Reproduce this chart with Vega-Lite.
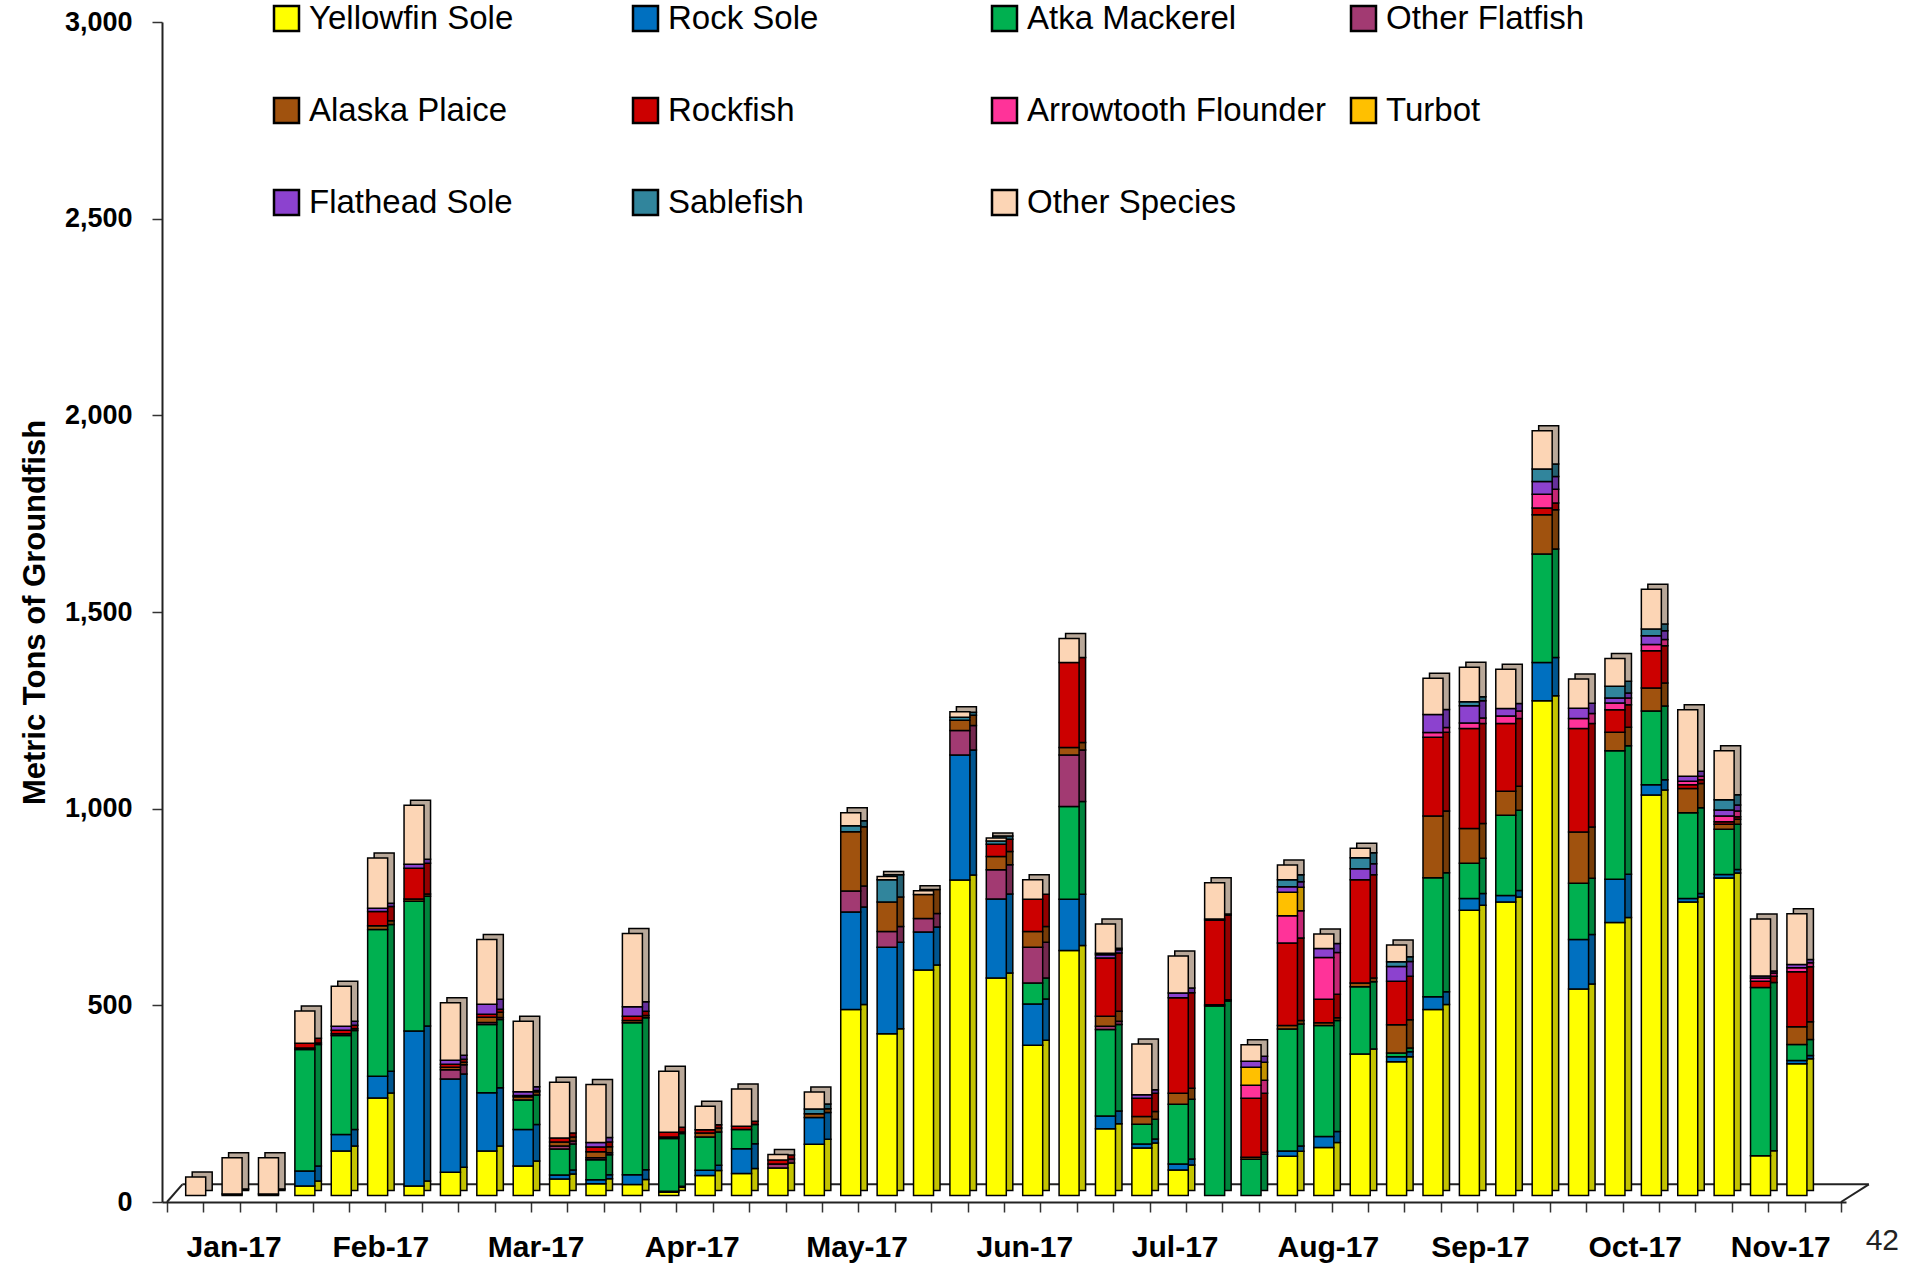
{
  "$schema": "https://vega.github.io/schema/vega-lite/v6.json",
  "width": 1684,
  "height": 1180,
  "autosize": {"type": "none"},
  "padding": {"left": 162, "top": 22, "right": 65, "bottom": 65},
  "background": "white",
  "config": {"view": {"stroke": null}, "font": "Liberation Sans"},
  "title": {"text": "42", "orient": "bottom", "anchor": "end", "frame": "group", "fontSize": 30, "fontWeight": "normal", "font": "Liberation Sans", "color": "#222", "dx": 53, "dy": -36, "offset": 0},
  "layer": [
    {
      "data": {"values": [{"edge": "back"}]},
      "mark": {"type": "rule", "color": "#222", "strokeWidth": 2, "clip": false},
      "encoding": {
        "x": {"datum": 0.923, "type": "quantitative",
          "scale": {"domain": [0.5, 46.5], "nice": false, "zero": false},
          "axis": {
            "title": null, "grid": false,
            "values": [0.5,1.5,2.5,3.5,4.5,5.5,6.5,7.5,8.5,9.5,10.5,11.5,12.5,13.5,14.5,15.5,16.5,17.5,18.5,19.5,20.5,21.5,22.5,23.5,24.5,25.5,26.5,27.5,28.5,29.5,30.5,31.5,32.5,33.5,34.5,35.5,36.5,37.5,38.5,39.5,40.5,41.5,42.5,43.5,44.5,45.5,46.5,2.33,6.36,10.63,14.92,19.45,24.06,28.19,32.4,36.58,40.83,44.83],
            "labelExpr": "datum.value == 2.33 ? 'Jan-17' : datum.value == 6.36 ? 'Feb-17' : datum.value == 10.63 ? 'Mar-17' : datum.value == 14.92 ? 'Apr-17' : datum.value == 19.45 ? 'May-17' : datum.value == 24.06 ? 'Jun-17' : datum.value == 28.19 ? 'Jul-17' : datum.value == 32.4 ? 'Aug-17' : datum.value == 36.58 ? 'Sep-17' : datum.value == 40.83 ? 'Oct-17' : datum.value == 44.83 ? 'Nov-17' : ''",
            "tickOpacity": {"condition": {"test": "datum.value % 1 == 0.5", "value": 1}, "value": 0},
            "labelFont": "Liberation Sans", "labelFontSize": 30, "labelFontWeight": "bold", "labelColor": "black",
            "labelPadding": 20, "labelOverlap": false, "labelFlush": false, "labelBound": false,
            "tickSize": 10, "tickColor": "#333", "tickWidth": 1.5,
            "domainColor": "#222", "domainWidth": 2
          }},
        "x2": {"datum": 47.265},
        "y": {"datum": 45, "type": "quantitative",
          "scale": {"domain": [0, 3000], "nice": false},
          "axis": {
            "title": "Metric Tons of Groundfish", "titleFont": "Liberation Sans", "titleFontSize": 31, "titleFontWeight": "bold", "titleColor": "black", "titlePadding": 13,
            "values": [0,500,1000,1500,2000,2500,3000], "format": ",.0f", "grid": false,
            "labelFont": "Liberation Sans", "labelFontSize": 27, "labelFontWeight": "bold", "labelColor": "black", "labelPadding": 20, "labelFlush": false,
            "labelOverlap": false,
            "tickSize": 10, "tickColor": "#333", "tickWidth": 1.5,
            "domainColor": "#222", "domainWidth": 2
          }},
        "y2": {"datum": 45}
      }
    },
    {
      "data": {"values": [{"edge": "left"}]},
      "mark": {"type": "rule", "color": "#222", "strokeWidth": 2, "clip": false},
      "encoding": {
        "x": {"datum": 0.5, "type": "quantitative",
          "scale": {"domain": [0.5, 46.5], "nice": false, "zero": false},
          "axis": {
            "title": null, "grid": false,
            "values": [0.5,1.5,2.5,3.5,4.5,5.5,6.5,7.5,8.5,9.5,10.5,11.5,12.5,13.5,14.5,15.5,16.5,17.5,18.5,19.5,20.5,21.5,22.5,23.5,24.5,25.5,26.5,27.5,28.5,29.5,30.5,31.5,32.5,33.5,34.5,35.5,36.5,37.5,38.5,39.5,40.5,41.5,42.5,43.5,44.5,45.5,46.5,2.33,6.36,10.63,14.92,19.45,24.06,28.19,32.4,36.58,40.83,44.83],
            "labelExpr": "datum.value == 2.33 ? 'Jan-17' : datum.value == 6.36 ? 'Feb-17' : datum.value == 10.63 ? 'Mar-17' : datum.value == 14.92 ? 'Apr-17' : datum.value == 19.45 ? 'May-17' : datum.value == 24.06 ? 'Jun-17' : datum.value == 28.19 ? 'Jul-17' : datum.value == 32.4 ? 'Aug-17' : datum.value == 36.58 ? 'Sep-17' : datum.value == 40.83 ? 'Oct-17' : datum.value == 44.83 ? 'Nov-17' : ''",
            "tickOpacity": {"condition": {"test": "datum.value % 1 == 0.5", "value": 1}, "value": 0},
            "labelFont": "Liberation Sans", "labelFontSize": 30, "labelFontWeight": "bold", "labelColor": "black",
            "labelPadding": 20, "labelOverlap": false, "labelFlush": false, "labelBound": false,
            "tickSize": 10, "tickColor": "#333", "tickWidth": 1.5,
            "domainColor": "#222", "domainWidth": 2
          }},
        "x2": {"datum": 0.923},
        "y": {"datum": 0, "type": "quantitative",
          "scale": {"domain": [0, 3000], "nice": false},
          "axis": {
            "title": "Metric Tons of Groundfish", "titleFont": "Liberation Sans", "titleFontSize": 31, "titleFontWeight": "bold", "titleColor": "black", "titlePadding": 13,
            "values": [0,500,1000,1500,2000,2500,3000], "format": ",.0f", "grid": false,
            "labelFont": "Liberation Sans", "labelFontSize": 27, "labelFontWeight": "bold", "labelColor": "black", "labelPadding": 20, "labelFlush": false,
            "labelOverlap": false,
            "tickSize": 10, "tickColor": "#333", "tickWidth": 1.5,
            "domainColor": "#222", "domainWidth": 2
          }},
        "y2": {"datum": 45}
      }
    },
    {
      "data": {"values": [{"edge": "right"}]},
      "mark": {"type": "rule", "color": "#222", "strokeWidth": 2, "clip": false},
      "encoding": {
        "x": {"datum": 46.5, "type": "quantitative",
          "scale": {"domain": [0.5, 46.5], "nice": false, "zero": false},
          "axis": {
            "title": null, "grid": false,
            "values": [0.5,1.5,2.5,3.5,4.5,5.5,6.5,7.5,8.5,9.5,10.5,11.5,12.5,13.5,14.5,15.5,16.5,17.5,18.5,19.5,20.5,21.5,22.5,23.5,24.5,25.5,26.5,27.5,28.5,29.5,30.5,31.5,32.5,33.5,34.5,35.5,36.5,37.5,38.5,39.5,40.5,41.5,42.5,43.5,44.5,45.5,46.5,2.33,6.36,10.63,14.92,19.45,24.06,28.19,32.4,36.58,40.83,44.83],
            "labelExpr": "datum.value == 2.33 ? 'Jan-17' : datum.value == 6.36 ? 'Feb-17' : datum.value == 10.63 ? 'Mar-17' : datum.value == 14.92 ? 'Apr-17' : datum.value == 19.45 ? 'May-17' : datum.value == 24.06 ? 'Jun-17' : datum.value == 28.19 ? 'Jul-17' : datum.value == 32.4 ? 'Aug-17' : datum.value == 36.58 ? 'Sep-17' : datum.value == 40.83 ? 'Oct-17' : datum.value == 44.83 ? 'Nov-17' : ''",
            "tickOpacity": {"condition": {"test": "datum.value % 1 == 0.5", "value": 1}, "value": 0},
            "labelFont": "Liberation Sans", "labelFontSize": 30, "labelFontWeight": "bold", "labelColor": "black",
            "labelPadding": 20, "labelOverlap": false, "labelFlush": false, "labelBound": false,
            "tickSize": 10, "tickColor": "#333", "tickWidth": 1.5,
            "domainColor": "#222", "domainWidth": 2
          }},
        "x2": {"datum": 47.265},
        "y": {"datum": 0, "type": "quantitative",
          "scale": {"domain": [0, 3000], "nice": false},
          "axis": {
            "title": "Metric Tons of Groundfish", "titleFont": "Liberation Sans", "titleFontSize": 31, "titleFontWeight": "bold", "titleColor": "black", "titlePadding": 13,
            "values": [0,500,1000,1500,2000,2500,3000], "format": ",.0f", "grid": false,
            "labelFont": "Liberation Sans", "labelFontSize": 27, "labelFontWeight": "bold", "labelColor": "black", "labelPadding": 20, "labelFlush": false,
            "labelOverlap": false,
            "tickSize": 10, "tickColor": "#333", "tickWidth": 1.5,
            "domainColor": "#222", "domainWidth": 2
          }},
        "y2": {"datum": 45}
      }
    },
    {
      "data": {"values": [
          {"week":1,"Other Species":47},
          {"week":2,"Yellowfin Sole":4,"Other Species":92},
          {"week":3,"Alaska Plaice":4,"Other Species":92},
          {"week":4,"Yellowfin Sole":24,"Rock Sole":38,"Atka Mackerel":309,"Alaska Plaice":4,"Rockfish":12,"Other Species":82},
          {"week":5,"Yellowfin Sole":113,"Rock Sole":42,"Atka Mackerel":252,"Alaska Plaice":4,"Rockfish":9,"Flathead Sole":10,"Other Species":102},
          {"week":6,"Yellowfin Sole":248,"Rock Sole":55,"Atka Mackerel":373,"Alaska Plaice":10,"Rockfish":36,"Flathead Sole":8,"Other Species":128},
          {"week":7,"Yellowfin Sole":24,"Rock Sole":394,"Atka Mackerel":330,"Alaska Plaice":6,"Rockfish":78,"Flathead Sole":10,"Other Species":150},
          {"week":8,"Yellowfin Sole":59,"Rock Sole":237,"Other Flatfish":24,"Alaska Plaice":6,"Rockfish":8,"Flathead Sole":10,"Other Species":146},
          {"week":9,"Yellowfin Sole":113,"Rock Sole":148,"Atka Mackerel":174,"Other Flatfish":5,"Alaska Plaice":13,"Rockfish":8,"Flathead Sole":25,"Other Species":165},
          {"week":10,"Yellowfin Sole":75,"Rock Sole":93,"Atka Mackerel":75,"Alaska Plaice":8,"Rockfish":3,"Flathead Sole":10,"Other Species":179},
          {"week":11,"Yellowfin Sole":42,"Rock Sole":10,"Atka Mackerel":66,"Other Flatfish":8,"Alaska Plaice":10,"Rockfish":10,"Other Species":142},
          {"week":12,"Yellowfin Sole":30,"Rock Sole":10,"Atka Mackerel":51,"Other Flatfish":5,"Alaska Plaice":15,"Rockfish":12,"Flathead Sole":12,"Other Species":147},
          {"week":13,"Yellowfin Sole":28,"Rock Sole":25,"Atka Mackerel":386,"Alaska Plaice":6,"Rockfish":11,"Flathead Sole":24,"Other Species":186},
          {"week":14,"Yellowfin Sole":8,"Rock Sole":3,"Atka Mackerel":134,"Alaska Plaice":4,"Rockfish":12,"Other Species":155},
          {"week":15,"Yellowfin Sole":51,"Rock Sole":13,"Atka Mackerel":85,"Alaska Plaice":10,"Rockfish":8,"Other Species":60},
          {"week":16,"Yellowfin Sole":56,"Rock Sole":63,"Atka Mackerel":49,"Rockfish":8,"Other Species":95},
          {"week":17,"Yellowfin Sole":70,"Other Flatfish":10,"Rockfish":10,"Other Species":14},
          {"week":18,"Yellowfin Sole":130,"Rock Sole":68,"Alaska Plaice":10,"Sablefish":12,"Other Species":43},
          {"week":19,"Yellowfin Sole":473,"Rock Sole":248,"Other Flatfish":53,"Alaska Plaice":151,"Sablefish":15,"Other Species":33},
          {"week":20,"Yellowfin Sole":411,"Rock Sole":220,"Other Flatfish":40,"Alaska Plaice":75,"Sablefish":57,"Other Species":8},
          {"week":21,"Yellowfin Sole":573,"Rock Sole":97,"Other Flatfish":34,"Alaska Plaice":61,"Other Species":10},
          {"week":22,"Yellowfin Sole":802,"Rock Sole":318,"Other Flatfish":62,"Alaska Plaice":26,"Sablefish":8,"Other Species":14},
          {"week":23,"Yellowfin Sole":553,"Rock Sole":201,"Other Flatfish":74,"Alaska Plaice":34,"Rockfish":31,"Sablefish":8,"Other Species":8},
          {"week":24,"Yellowfin Sole":382,"Rock Sole":105,"Atka Mackerel":53,"Other Flatfish":91,"Alaska Plaice":40,"Rockfish":82,"Other Species":50},
          {"week":25,"Yellowfin Sole":623,"Rock Sole":130,"Atka Mackerel":236,"Other Flatfish":131,"Alaska Plaice":19,"Rockfish":216,"Other Species":61},
          {"week":26,"Yellowfin Sole":170,"Rock Sole":32,"Atka Mackerel":220,"Other Flatfish":8,"Alaska Plaice":26,"Rockfish":148,"Flathead Sole":8,"Sablefish":4,"Other Species":74},
          {"week":27,"Yellowfin Sole":121,"Rock Sole":10,"Atka Mackerel":50,"Alaska Plaice":20,"Rockfish":46,"Flathead Sole":9,"Other Species":129},
          {"week":28,"Yellowfin Sole":65,"Rock Sole":15,"Atka Mackerel":152,"Alaska Plaice":28,"Rockfish":243,"Flathead Sole":12,"Other Species":94},
          {"week":29,"Atka Mackerel":482,"Alaska Plaice":3,"Rockfish":215,"Flathead Sole":3,"Other Species":92},
          {"week":30,"Atka Mackerel":92,"Alaska Plaice":5,"Rockfish":150,"Arrowtooth Flounder":33,"Turbot":46,"Flathead Sole":15,"Other Species":42},
          {"week":31,"Yellowfin Sole":100,"Rock Sole":13,"Atka Mackerel":310,"Alaska Plaice":9,"Rockfish":210,"Arrowtooth Flounder":69,"Turbot":60,"Flathead Sole":14,"Sablefish":18,"Other Species":37},
          {"week":32,"Yellowfin Sole":122,"Rock Sole":28,"Atka Mackerel":282,"Alaska Plaice":7,"Rockfish":60,"Arrowtooth Flounder":106,"Flathead Sole":23,"Other Species":37},
          {"week":33,"Yellowfin Sole":360,"Atka Mackerel":171,"Alaska Plaice":9,"Rockfish":263,"Flathead Sole":28,"Sablefish":28,"Other Species":24},
          {"week":34,"Yellowfin Sole":340,"Rock Sole":13,"Atka Mackerel":9,"Alaska Plaice":72,"Rockfish":111,"Flathead Sole":37,"Sablefish":12,"Other Species":43},
          {"week":35,"Yellowfin Sole":473,"Rock Sole":32,"Atka Mackerel":303,"Alaska Plaice":157,"Rockfish":200,"Arrowtooth Flounder":12,"Flathead Sole":46,"Other Species":92},
          {"week":36,"Yellowfin Sole":725,"Rock Sole":30,"Atka Mackerel":90,"Alaska Plaice":88,"Rockfish":254,"Arrowtooth Flounder":14,"Flathead Sole":44,"Sablefish":10,"Other Species":88},
          {"week":37,"Yellowfin Sole":746,"Rock Sole":17,"Atka Mackerel":204,"Alaska Plaice":61,"Rockfish":172,"Arrowtooth Flounder":19,"Flathead Sole":19,"Other Species":100},
          {"week":38,"Yellowfin Sole":1258,"Rock Sole":97,"Atka Mackerel":276,"Alaska Plaice":100,"Rockfish":17,"Arrowtooth Flounder":35,"Flathead Sole":32,"Sablefish":32,"Other Species":97},
          {"week":39,"Yellowfin Sole":525,"Rock Sole":126,"Atka Mackerel":143,"Alaska Plaice":130,"Rockfish":263,"Arrowtooth Flounder":26,"Flathead Sole":26,"Other Species":74},
          {"week":40,"Yellowfin Sole":694,"Rock Sole":110,"Atka Mackerel":327,"Alaska Plaice":47,"Rockfish":57,"Arrowtooth Flounder":17,"Flathead Sole":13,"Sablefish":30,"Other Species":70},
          {"week":41,"Yellowfin Sole":1018,"Rock Sole":26,"Atka Mackerel":188,"Alaska Plaice":58,"Rockfish":95,"Arrowtooth Flounder":16,"Flathead Sole":22,"Sablefish":17,"Other Species":101},
          {"week":42,"Yellowfin Sole":746,"Rock Sole":9,"Atka Mackerel":218,"Alaska Plaice":62,"Rockfish":9,"Arrowtooth Flounder":9,"Flathead Sole":13,"Other Species":169},
          {"week":43,"Yellowfin Sole":807,"Rock Sole":9,"Atka Mackerel":115,"Alaska Plaice":13,"Rockfish":6,"Arrowtooth Flounder":15,"Flathead Sole":15,"Sablefish":26,"Other Species":125},
          {"week":44,"Yellowfin Sole":101,"Atka Mackerel":428,"Rockfish":16,"Arrowtooth Flounder":8,"Flathead Sole":5,"Other Species":145},
          {"week":45,"Yellowfin Sole":335,"Rock Sole":8,"Atka Mackerel":41,"Alaska Plaice":45,"Rockfish":140,"Arrowtooth Flounder":10,"Flathead Sole":8,"Other Species":129}
      ]},
      "transform": [
        {"fold": ["Yellowfin Sole","Rock Sole","Atka Mackerel","Other Flatfish","Alaska Plaice","Rockfish","Arrowtooth Flounder","Turbot","Flathead Sole","Sablefish","Other Species"], "as": ["species", "tons"]},
        {"filter": "isValid(datum.tons)"},
        {"lookup": "species", "from": {"data": {"values": [
          {"species": "Yellowfin Sole", "idx": 1},
          {"species": "Rock Sole", "idx": 2},
          {"species": "Atka Mackerel", "idx": 3},
          {"species": "Other Flatfish", "idx": 4},
          {"species": "Alaska Plaice", "idx": 5},
          {"species": "Rockfish", "idx": 6},
          {"species": "Arrowtooth Flounder", "idx": 7},
          {"species": "Turbot", "idx": 8},
          {"species": "Flathead Sole", "idx": 9},
          {"species": "Sablefish", "idx": 10},
          {"species": "Other Species", "idx": 11}
        ]}, "key": "species", "fields": ["idx"]}}
      ],
      "encoding": {
        "x": {"field": "week", "type": "quantitative",
          "scale": {"domain": [0.5, 46.5], "nice": false, "zero": false},
          "axis": {
            "title": null, "grid": false,
            "values": [0.5,1.5,2.5,3.5,4.5,5.5,6.5,7.5,8.5,9.5,10.5,11.5,12.5,13.5,14.5,15.5,16.5,17.5,18.5,19.5,20.5,21.5,22.5,23.5,24.5,25.5,26.5,27.5,28.5,29.5,30.5,31.5,32.5,33.5,34.5,35.5,36.5,37.5,38.5,39.5,40.5,41.5,42.5,43.5,44.5,45.5,46.5,2.33,6.36,10.63,14.92,19.45,24.06,28.19,32.4,36.58,40.83,44.83],
            "labelExpr": "datum.value == 2.33 ? 'Jan-17' : datum.value == 6.36 ? 'Feb-17' : datum.value == 10.63 ? 'Mar-17' : datum.value == 14.92 ? 'Apr-17' : datum.value == 19.45 ? 'May-17' : datum.value == 24.06 ? 'Jun-17' : datum.value == 28.19 ? 'Jul-17' : datum.value == 32.4 ? 'Aug-17' : datum.value == 36.58 ? 'Sep-17' : datum.value == 40.83 ? 'Oct-17' : datum.value == 44.83 ? 'Nov-17' : ''",
            "tickOpacity": {"condition": {"test": "datum.value % 1 == 0.5", "value": 1}, "value": 0},
            "labelFont": "Liberation Sans", "labelFontSize": 30, "labelFontWeight": "bold", "labelColor": "black",
            "labelPadding": 20, "labelOverlap": false, "labelFlush": false, "labelBound": false,
            "tickSize": 10, "tickColor": "#333", "tickWidth": 1.5,
            "domainColor": "#222", "domainWidth": 2
          }},
        "y": {"field": "tons", "type": "quantitative", "stack": "zero",
          "scale": {"domain": [0, 3000], "nice": false},
          "axis": {
            "title": "Metric Tons of Groundfish", "titleFont": "Liberation Sans", "titleFontSize": 31, "titleFontWeight": "bold", "titleColor": "black", "titlePadding": 13,
            "values": [0,500,1000,1500,2000,2500,3000], "format": ",.0f", "grid": false,
            "labelFont": "Liberation Sans", "labelFontSize": 27, "labelFontWeight": "bold", "labelColor": "black", "labelPadding": 20, "labelFlush": false,
            "labelOverlap": false,
            "tickSize": 10, "tickColor": "#333", "tickWidth": 1.5,
            "domainColor": "#222", "domainWidth": 2
          }},
        "order": {"field": "idx", "type": "quantitative", "sort": "ascending"}
      },
      "layer": [
        {
          "mark": {"type": "bar", "orient": "vertical", "size": 20, "xOffset": 17, "yOffset": -11.5, "stroke": "black", "strokeWidth": 1.5},
          "encoding": {
            "color": {"field": "species", "type": "nominal", "legend": null,
              "scale": {"domain": ["Yellowfin Sole","Rock Sole","Atka Mackerel","Other Flatfish","Alaska Plaice","Rockfish","Arrowtooth Flounder","Turbot","Flathead Sole","Sablefish","Other Species"],
                        "range": ["#C4C400","#00558F","#00843C","#74284E","#773C08","#940000","#C42674","#C49300","#66309C","#245F70","#B9A899"]}}
          }
        },
        {
          "mark": {"type": "bar", "orient": "vertical", "size": 20, "xOffset": 10.5, "yOffset": -6.5, "stroke": "black", "strokeWidth": 1.5},
          "encoding": {
            "color": {"field": "species", "type": "nominal",
              "scale": {"domain": ["Yellowfin Sole","Rock Sole","Atka Mackerel","Other Flatfish","Alaska Plaice","Rockfish","Arrowtooth Flounder","Turbot","Flathead Sole","Sablefish","Other Species"],
                        "range": ["#FFFF00","#0070C0","#00B050","#A23A72","#A0520E","#CC0000","#FF3399","#FFC000","#8C42CF","#31859C","#FCD5B5"]},
              "legend": {
                "orient": "none", "direction": "horizontal", "legendX": 108, "legendY": -20, "columns": 4, "gridAlign": "all",
                "columnPadding": 20, "rowPadding": 57, "title": null, "padding": 0,
                "symbolType": "square", "symbolSize": 625, "symbolStrokeColor": "black", "symbolStrokeWidth": 2.5,
                "labelFont": "Liberation Sans", "labelFontSize": 33, "labelColor": "black", "labelOffset": 6, "labelLimit": 500
              }}
          }
        }
      ],
      "resolve": {"scale": {"color": "independent"}, "legend": {"color": "independent"}}
    }
  ]
}
